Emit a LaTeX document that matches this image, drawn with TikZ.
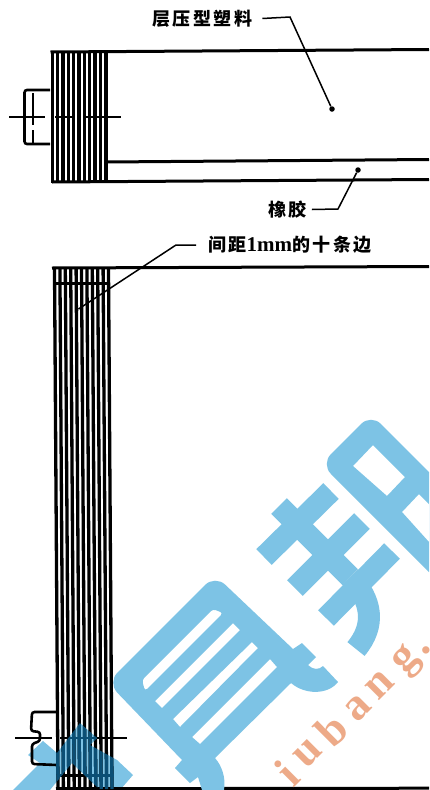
\documentclass[tikz,border=0pt]{standalone}
\usepackage{fontspec}
\setmainfont{Liberation Serif}
\newfontfamily\cjk[LetterSpace=14]{Noto Sans CJK SC}
\definecolor{wmblue}{HTML}{7DC3E5}
\definecolor{wmorange}{HTML}{EDAA88}
\definecolor{wmdark}{HTML}{0B4F75}
\newcommand{\hatchlow}[1]{%
  \foreach \i in {0,...,10}{
    \draw[line width=3.3pt,#1] ({54.5+5.4*\i},268) -- ({58+5.4*\i},789);
  }
  \draw[line width=3pt,#1] (53,283.5) -- (110,283.5);
  \draw[line width=3pt,#1] (57,775.5) -- (114,775.5);
}
\newcommand{\fragpath}{(13,790) -- (40,763) -- (28,755) -- (43,741) -- (57,753) -- (80,723) -- (97,738) -- (90,745) -- (117,760) -- (133,775) -- (120,790) -- (100,790) -- (72,763) -- (50,790) -- cycle}
\tikzset{
  edgeline/.style={line width=3pt,black},
  thinline/.style={line width=1.5pt,black},
  boltline/.style={line width=2.6pt,black,rounded corners=2.5pt},
  leader/.style={line width=1.5pt,black},
  dotmark/.style={circle,fill=black,inner sep=0pt,minimum size=5.5pt},
  label/.style={inner sep=0pt,font=\fontsize{18}{18}\selectfont\bfseries\cjk},
  wmletter/.style={text=wmorange,rotate=45,inner sep=0pt,font=\fontsize{45}{45}\selectfont\bfseries},
  wmstroke/.style={line width=22pt,wmblue}
}
\begin{document}
\begin{tikzpicture}[x=1pt,y=-1pt]
\useasboundingbox (0,0) rectangle (429,790);
\fill[white] (0,0) rectangle (429,790);
% watermark: fragment under the hatching
\fill[wmblue] \fragpath;
% top part
\foreach \i in {0,...,10}{
  \draw[line width=3.4pt] ({52.3+5.35*\i},52) -- ({52.3+5.35*\i},183);
}
\draw[edgeline] (50.5,52) -- (429,49.5);
\draw[edgeline] (106,162) -- (429,159.5);
\draw[edgeline] (52,182) -- (429,179.5);
\draw[boltline] (50,90) -- (24.5,90) -- (24.5,144) -- (50,144);
\draw[thinline] (9,117) -- (45,117);
\draw[thinline] (55,117) -- (72,117);
\draw[thinline] (85,117) -- (121,117);
\draw[thinline] (33,93) -- (33,125);
\draw[thinline] (33,130) -- (33,143);
% lower part
\hatchlow{black}
\draw[edgeline] (52,268) -- (429,266.5);
\draw[edgeline] (56,788.7) -- (429,788.2);
\draw[boltline] (57,712) -- (32,712) -- (31,731) -- (40,732) -- (40,741) -- (32,744) -- (32,764) -- (57,765);
\draw[thinline] (15,738) -- (52,738);
\draw[thinline] (60,738) -- (78,738);
\draw[thinline] (85,738) -- (127,738);
% overlap of the watermark and the hatching
\begin{scope}
  \clip \fragpath;
  \hatchlow{wmdark}
  \draw[line width=1.5pt,wmdark] (60,738) -- (127,738);
\end{scope}
% labels and leaders
\node[label,anchor=west] (lblA) at (152,18.5) {层压型塑料};
\node[dotmark] (dotA) at (332,109) {};
\coordinate (kneeA) at (290,17);
\draw[leader] ([xshift=10pt]lblA.east) -- (kneeA) -- (dotA);
\node[label,anchor=west] (lblB) at (268,209.5) {橡胶};
\node[dotmark] (dotB) at (358,170) {};
\coordinate (kneeB) at (338,209);
\draw[leader] ([xshift=5pt]lblB.east) -- (kneeB) -- (dotB);
\node[label,anchor=west] (lblC) at (208,245) {间距{\rmfamily\fontsize{21}{21}\selectfont\bfseries 1mm}的十条边};
\node[dotmark,minimum size=3pt] (dotC) at (77,310) {};
\coordinate (kneeC) at (176,245);
\draw[leader] ([xshift=-12pt]lblC.west) -- (kneeC) -- (dotC);
% watermark glyph shapes
\fill[wmblue,even odd rule]
  [rounded corners=14pt] (429,472) -- (371,414) -- (321,464) [sharp corners] -- (429,572) -- (429,472) -- cycle
  (353,466) -- (373,445) -- (405,477) -- (387,496) -- cycle
  (419,494) -- (429,504) -- (429,542) -- (402,512) -- cycle;
\draw[wmstroke] (279,506) -- (350,577);
\draw[wmstroke] (264,557) -- (331,491);
\draw[wmstroke] (295,588) -- (362,521);
\draw[wmstroke] (326,618) -- (392,551);
\draw[wmstroke] (350,577) .. controls (372,600) and (376,625) .. (356,649);
\fill[wmblue,even odd rule]
  (182,760) -- (175,768) -- (190,783) -- (198,777) -- (202,790) -- (224,790)
  .. controls (226,778) and (222,766) .. (215,758)
  -- (291,683) .. controls (305,695) and (328,695) .. (338,682)
  -- (323,666) .. controls (319,670) and (313,670) .. (308,665)
  -- (316,657) -- (302,643) -- (293,649)
  [rounded corners=14pt] -- (215,575) -- (107.5,682.5) [sharp corners] -- (182,760) -- cycle
  [rounded corners=3pt]
  (142,680) -- (213,609) -- (223,613) -- (145,691) -- cycle
  [sharp corners]
  (155,701) -- (233,623) -- (240,630) -- (162,708) -- cycle
  (173,719) -- (252,642) -- (258,648) -- (180,727) -- cycle
  (192,737) -- (270,659) -- (277,667) -- (200,744) -- cycle;
\node[wmletter] (wj) at (283,808) {j};
\node[wmletter] (wi) at (287,773) {i};
\node[wmletter] (wu) at (308,754) {u};
\node[wmletter] (wb) at (331,730) {b};
\node[wmletter] (wa) at (358,708) {a};
\node[wmletter] (wn) at (380,685) {n};
\node[wmletter] (wg) at (408,662) {g};
\node[wmletter] (wd) at (426,650) {.};
\end{tikzpicture}
\end{document}
